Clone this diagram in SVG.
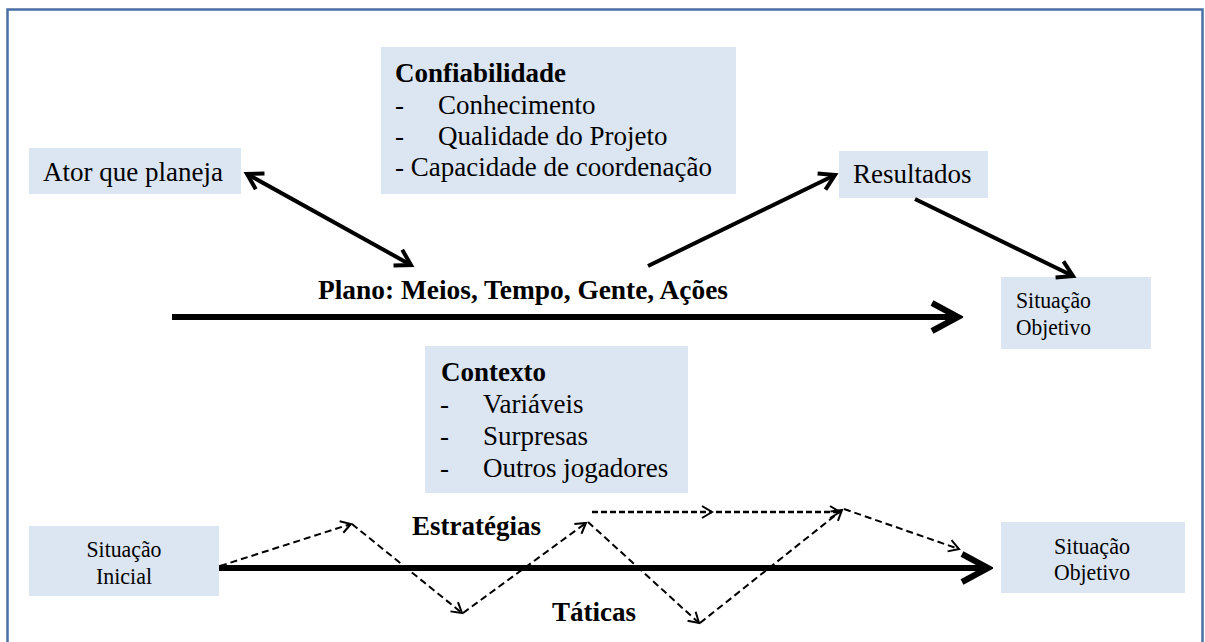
<svg xmlns="http://www.w3.org/2000/svg" width="1205" height="642" viewBox="0 0 1205 642">
<style>
.box{fill:#dce6f2}
text{font-family:'Liberation Serif','Times New Roman','DejaVu Serif',serif;fill:#000}
.t{font-size:27px}
.b{font-weight:bold}
.s{font-size:23px}
.thick{stroke:#000;stroke-width:6;fill:none}
.mid{stroke:#000;stroke-width:4;fill:none}
.dash{stroke:#000;stroke-width:2;fill:none;stroke-dasharray:7 4}
.dash2{stroke:#000;stroke-width:2.6;fill:none;stroke-dasharray:6 3}
</style>
<defs>
<marker id="ah" viewBox="0 0 22 22" refX="18" refY="11" markerWidth="22" markerHeight="22" markerUnits="userSpaceOnUse" orient="auto-start-reverse">
<path d="M3,2 L18,11 L3,20" fill="none" stroke="#000" stroke-width="4"/>
</marker>
<marker id="big" viewBox="0 0 34 34" refX="29" refY="17" markerWidth="34" markerHeight="34" markerUnits="userSpaceOnUse" orient="auto">
<path d="M3,3 L29,17 L3,31" fill="none" stroke="#000" stroke-width="6"/>
</marker>
<marker id="sm" viewBox="0 0 16 16" refX="13" refY="8" markerWidth="16" markerHeight="16" markerUnits="userSpaceOnUse" orient="auto">
<path d="M3,2 L13,8 L3,14" fill="none" stroke="#000" stroke-width="2"/>
</marker>
</defs>
<rect x="7.5" y="9.5" width="1195" height="700" fill="#fff" stroke="#4a6fa5" stroke-width="2.5"/>

<g id="ator">
<rect class="box" x="29" y="148" width="212" height="46"/>
<text class="t" x="43" y="181" font-family="Liberation Serif, Times New Roman, DejaVu Serif, serif">Ator que planeja</text>
</g>
<g id="confiabilidade">
<rect class="box" x="381" y="47" width="355" height="147"/>
<text class="t b" x="395" y="82">Confiabilidade</text>
<text class="t" x="395" y="114">-</text><text class="t" x="438" y="114">Conhecimento</text>
<text class="t" x="395" y="145">-</text><text class="t" x="438" y="145">Qualidade do Projeto</text>
<text class="t" x="395" y="176">- Capacidade de coordenação</text>
</g>
<g id="resultados">
<rect class="box" x="839" y="151" width="149" height="47"/>
<text class="t" x="853" y="183">Resultados</text>
</g>
<g id="situacao-objetivo-1">
<rect class="box" x="1001" y="277" width="150" height="72"/>
<text class="s" x="1016" y="308" textLength="75" lengthAdjust="spacingAndGlyphs">Situação</text>
<text class="s" x="1016" y="335" textLength="75" lengthAdjust="spacingAndGlyphs">Objetivo</text>
</g>
<g id="plano">
<text class="t b" x="318" y="299" textLength="410" lengthAdjust="spacingAndGlyphs">Plano: Meios, Tempo, Gente, Ações</text>
</g>
<g id="contexto">
<rect class="box" x="425" y="346" width="263" height="147"/>
<text class="t b" x="441" y="381">Contexto</text>
<text class="t" x="440" y="413">-</text><text class="t" x="483" y="413">Variáveis</text>
<text class="t" x="440" y="445">-</text><text class="t" x="483" y="445">Surpresas</text>
<text class="t" x="440" y="477">-</text><text class="t" x="483" y="477">Outros jogadores</text>
</g>
<g id="situacao-inicial">
<rect class="box" x="29" y="526" width="190" height="70"/>
<text class="s" x="124" y="557" text-anchor="middle" textLength="75" lengthAdjust="spacingAndGlyphs">Situação</text>
<text class="s" x="124" y="584" text-anchor="middle" textLength="56" lengthAdjust="spacingAndGlyphs">Inicial</text>
</g>
<g id="situacao-objetivo-2">
<rect class="box" x="1001" y="522" width="184" height="71"/>
<text class="s" x="1092" y="554" text-anchor="middle" textLength="76" lengthAdjust="spacingAndGlyphs">Situação</text>
<text class="s" x="1092" y="580" text-anchor="middle" textLength="76" lengthAdjust="spacingAndGlyphs">Objetivo</text>
</g>
<g id="estrategias">
<text class="t b" x="412" y="535">Estratégias</text>
</g>
<g id="taticas">
<text class="t b" x="552" y="621">Táticas</text>
</g>

<g id="connectors">
<line class="mid" x1="247" y1="174" x2="411" y2="265" marker-start="url(#ah)" marker-end="url(#ah)"/>
<line class="mid" x1="648" y1="266" x2="835" y2="175" marker-end="url(#ah)"/>
<line class="mid" x1="915" y1="199" x2="1073" y2="276" marker-end="url(#ah)"/>
<line class="thick" x1="172" y1="317" x2="958" y2="317" marker-end="url(#big)"/>
<line class="thick" x1="219" y1="568" x2="988" y2="568" marker-end="url(#big)"/>
<line class="dash" x1="220" y1="566" x2="351" y2="524" marker-end="url(#sm)"/>
<line class="dash" x1="352" y1="524" x2="462" y2="613" marker-end="url(#sm)"/>
<line class="dash" x1="463" y1="613" x2="586" y2="523" marker-end="url(#sm)"/>
<line class="dash" x1="588" y1="522" x2="699" y2="623" marker-end="url(#sm)"/>
<line class="dash" x1="700" y1="623" x2="842" y2="510" marker-end="url(#sm)"/>
<line class="dash" x1="844" y1="509" x2="959" y2="549" marker-end="url(#sm)"/>
<line class="dash2" x1="592" y1="512" x2="712" y2="512" marker-end="url(#sm)"/>
<line class="dash2" x1="716" y1="512" x2="840" y2="512" marker-end="url(#sm)"/>
</g>
</svg>
